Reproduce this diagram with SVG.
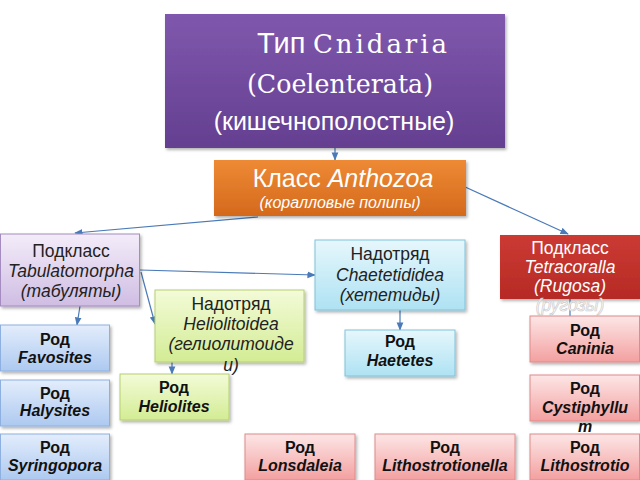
<svg xmlns="http://www.w3.org/2000/svg" width="640" height="480" viewBox="0 0 640 480">
<defs>
<linearGradient id="gPurple" x1="0" y1="0" x2="0" y2="1"><stop offset="0" stop-color="#7f58ad"/><stop offset="1" stop-color="#643f90"/></linearGradient>
<linearGradient id="gOrange" x1="0" y1="0" x2="0" y2="1"><stop offset="0" stop-color="#ee8a35"/><stop offset="1" stop-color="#d4691c"/></linearGradient>
<linearGradient id="gLav" x1="0" y1="0" x2="0" y2="1"><stop offset="0" stop-color="#f3ecf9"/><stop offset="1" stop-color="#cfbde3"/></linearGradient>
<linearGradient id="gGreen" x1="0" y1="0" x2="0" y2="1"><stop offset="0" stop-color="#f3fbd8"/><stop offset="1" stop-color="#d3ec94"/></linearGradient>
<linearGradient id="gCyan" x1="0" y1="0" x2="0" y2="1"><stop offset="0" stop-color="#e6f7fc"/><stop offset="1" stop-color="#aee2f3"/></linearGradient>
<linearGradient id="gBlue" x1="0" y1="0" x2="0" y2="1"><stop offset="0" stop-color="#e3edfc"/><stop offset="1" stop-color="#adc9f0"/></linearGradient>
<linearGradient id="gPink" x1="0" y1="0" x2="0" y2="1"><stop offset="0" stop-color="#fde6e6"/><stop offset="1" stop-color="#f3a0a0"/></linearGradient>
<linearGradient id="gRed" x1="0" y1="0" x2="0" y2="1"><stop offset="0" stop-color="#cc3a33"/><stop offset="1" stop-color="#b52a25"/></linearGradient>
<filter id="sh" x="-10%" y="-10%" width="125%" height="130%"><feDropShadow dx="1.5" dy="2" stdDeviation="1.5" flood-color="#000" flood-opacity="0.3"/></filter>
<marker id="ah" viewBox="0 0 10 10" refX="9" refY="5" markerWidth="7" markerHeight="7" orient="auto-start-reverse"><path d="M0,1 L10,5 L0,9 z" fill="#4a7ab8"/></marker>
</defs>
<style>
text{font-family:"Liberation Sans",Arial,sans-serif;text-anchor:middle}
.serif{font-family:"DejaVu Serif","Liberation Serif",serif}
.s{font-size:17.5px;fill:#222}
.i{font-style:italic}
.b{font-weight:bold;font-size:16px;fill:#111}
.c{stroke:#4a7ab8;stroke-width:1.2;fill:none}
</style>
<g id="connectors">
<line class="c" x1="335" y1="148" x2="335" y2="160" marker-end="url(#ah)"/>
<line class="c" x1="258" y1="217" x2="75" y2="233" marker-end="url(#ah)"/>
<line class="c" x1="463" y1="186" x2="568" y2="234" marker-end="url(#ah)"/>
<line class="c" x1="140" y1="270" x2="315" y2="275" marker-end="url(#ah)"/>
<line class="c" x1="141" y1="272" x2="155" y2="324" marker-end="url(#ah)"/>
<line class="c" x1="80" y1="306" x2="77" y2="325" marker-end="url(#ah)"/>
<line class="c" x1="172" y1="362" x2="172" y2="374" marker-end="url(#ah)"/>
<line class="c" x1="400" y1="310" x2="400" y2="330" marker-end="url(#ah)"/>
<line class="c" x1="570" y1="299" x2="570" y2="330"/>
</g>
<g id="cnidaria">
<rect x="165" y="14" width="340" height="134" fill="url(#gPurple)" filter="url(#sh)"/>
<text x="257" y="53" font-size="29" fill="#fff" style="text-anchor:start">Тип</text>
<text x="313" y="53" font-size="26" fill="#fff" class="serif" style="text-anchor:start" textLength="134" lengthAdjust="spacing">Cnidaria</text>
<text x="247" y="93" font-size="26" fill="#fff" class="serif" style="text-anchor:start" textLength="186" lengthAdjust="spacingAndGlyphs">(Coelenterata)</text>
<text x="334" y="130" font-size="25" fill="#fff">(кишечнополостные)</text>
</g>
<g id="anthozoa">
<rect x="214" y="160" width="252" height="56" fill="url(#gOrange)" filter="url(#sh)"/>
<text x="343" y="187" font-size="25" fill="#fff">Класс <tspan class="i">Anthozoa</tspan></text>
<text x="340" y="208" font-size="16" fill="#fff" class="i">(коралловые полипы)</text>
</g>
<g id="tabulatomorpha">
<rect x="0.5" y="234" width="139" height="72" fill="url(#gLav)" stroke="#a58cc0" filter="url(#sh)"/>
<text x="71" y="257" class="s">Подкласс</text>
<text x="71" y="277" class="s i">Tabulatomorpha</text>
<text x="71" y="297" class="s i">(табуляты)</text>
</g>
<g id="chaetetididea">
<rect x="315" y="240" width="150" height="70" fill="url(#gCyan)" stroke="#7fc3dc" filter="url(#sh)"/>
<text x="390" y="260" class="s">Надотряд</text>
<text x="390" y="281" class="s i">Chaetetididea</text>
<text x="390" y="301" class="s i">(хететиды)</text>
</g>
<g id="heliolitoidea">
<rect x="155" y="290" width="149" height="72" fill="url(#gGreen)" stroke="#b5d070" filter="url(#sh)"/>
<text x="231" y="310" class="s">Надотряд</text>
<text x="231" y="330" class="s i">Heliolitoidea</text>
<text x="231" y="350" class="s i">(гелиолитоиде</text>
<text x="231" y="371" class="s i">и)</text>
</g>
<g id="tetracoralla">
<rect x="500" y="235" width="140" height="64" fill="url(#gRed)" filter="url(#sh)"/>
<text x="570" y="254" class="s" style="fill:#fff">Подкласс</text>
<text x="570" y="273" class="s i" style="fill:#fff">Tetracoralla</text>
<text x="570" y="292" class="s i" style="fill:#fff">(Rugosa)</text>
<text x="570" y="311" class="s i" stroke="#ccc" stroke-width="0.7" style="fill:#fff">(ругозы)</text>
</g>
<g id="favosites">
<rect x="0.5" y="325" width="109" height="46" fill="url(#gBlue)" stroke="#8eb0e0" filter="url(#sh)"/>
<text x="55" y="345" class="b">Род</text><text x="55" y="363" class="b i">Favosites</text>
</g>
<g id="halysites">
<rect x="0.5" y="380" width="109" height="46" fill="url(#gBlue)" stroke="#8eb0e0" filter="url(#sh)"/>
<text x="55" y="399" class="b">Род</text><text x="55" y="416" class="b i">Halysites</text>
</g>
<g id="syringopora">
<rect x="0.5" y="434" width="109" height="46" fill="url(#gBlue)" stroke="#8eb0e0" filter="url(#sh)"/>
<text x="55" y="453" class="b">Род</text><text x="55" y="471" class="b i">Syringopora</text>
</g>
<g id="heliolites">
<rect x="120" y="374" width="109" height="46" fill="url(#gGreen)" stroke="#b5d070" filter="url(#sh)"/>
<text x="174" y="393" class="b">Род</text><text x="174" y="412" class="b i">Heliolites</text>
</g>
<g id="haetetes">
<rect x="345" y="330" width="110" height="46" fill="url(#gCyan)" stroke="#7fc3dc" filter="url(#sh)"/>
<text x="400" y="347" class="b">Род</text><text x="400" y="366" class="b i">Haetetes</text>
</g>
<g id="caninia">
<rect x="530" y="316" width="109.5" height="46" fill="url(#gPink)" stroke="#e08a8a" filter="url(#sh)"/>
<text x="585" y="336" class="b">Род</text><text x="585" y="354" class="b i">Caninia</text>
</g>
<g id="cystiphyllum">
<rect x="530" y="375" width="109.5" height="46" fill="url(#gPink)" stroke="#e08a8a" filter="url(#sh)"/>
<text x="585" y="394" class="b">Род</text><text x="585" y="413" class="b i">Cystiphyllu</text><text x="585" y="432" class="b i">m</text>
</g>
<g id="lithostrotio">
<rect x="530" y="434" width="109.5" height="46" fill="url(#gPink)" stroke="#e08a8a" filter="url(#sh)"/>
<text x="585" y="453" class="b">Род</text><text x="585" y="471" class="b i">Lithostrotio</text>
</g>
<g id="lonsdaleia">
<rect x="245" y="434" width="110" height="46" fill="url(#gPink)" stroke="#e08a8a" filter="url(#sh)"/>
<text x="300" y="453" class="b">Род</text><text x="300" y="471" class="b i">Lonsdaleia</text>
</g>
<g id="lithostrotionella">
<rect x="375" y="434" width="140" height="46" fill="url(#gPink)" stroke="#e08a8a" filter="url(#sh)"/>
<text x="445" y="453" class="b">Род</text><text x="445" y="471" class="b i">Lithostrotionella</text>
</g>
</svg>
